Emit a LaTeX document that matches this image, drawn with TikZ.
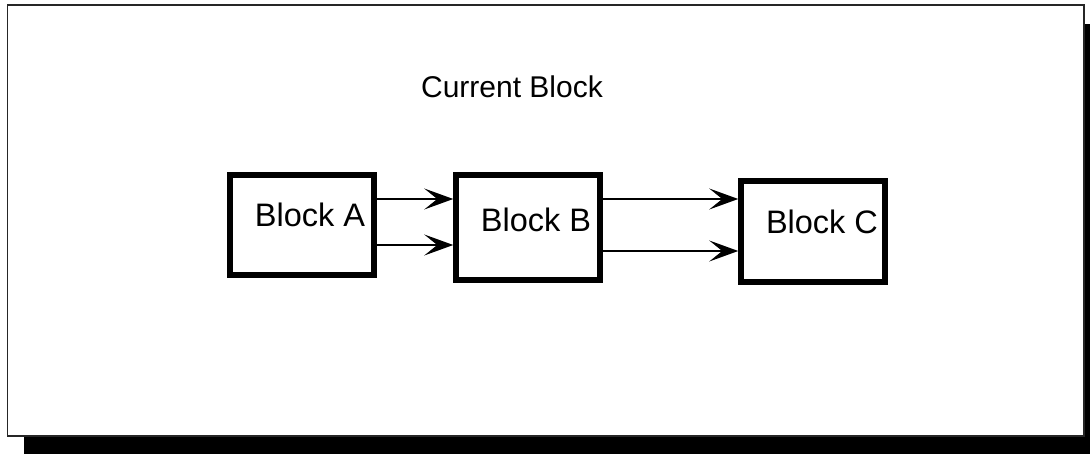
\documentclass[tikz,border=0pt]{standalone}
\usepackage{fontspec}
\setmainfont{Liberation Sans}
\usetikzlibrary{positioning,arrows.meta,calc}

\begin{document}
\begin{tikzpicture}[x=1pt,y=-1pt,
  block/.style={
    draw,
    line width=5.5pt,
    minimum width=144pt,
    inner sep=0pt
  },
  link/.style={
    line width=1.4pt,
    -{Stealth[length=29pt,width=21pt,inset=13pt]}
  }
]
  \useasboundingbox (0,0) rectangle (1090,454);
  % shadow and frame
  \fill[black] (24,24) rectangle (1095,460);
  \draw[line width=1.8pt,draw=black!85,fill=white] (7.5,5) rectangle (1084,436);
  \node[font=\fontsize{30}{36}\selectfont,anchor=base] (title) at (512,98) {Current Block};
  \node[block,minimum height=100pt,
    label={[xshift=8pt,yshift=10pt,font=\fontsize{32.5}{38}\selectfont]center:Block A}] (A) at (302,225) {};
  \node[block,minimum height=105pt,
    label={[xshift=8pt,yshift=7.5pt,font=\fontsize{32.5}{38}\selectfont]center:Block B}] (B) at (528,227.5) {};
  \node[block,minimum height=101pt,
    label={[xshift=9pt,yshift=9.5pt,font=\fontsize{32.5}{38}\selectfont]center:Block C}] (C) at (813,231.5) {};
  \draw[link] (A.east |- 0,199) -- (B.west |- 0,199);
  \draw[link] (A.east |- 0,245) -- (B.west |- 0,245);
  \draw[link] (B.east |- 0,199) -- (C.west |- 0,199);
  \draw[link] (B.east |- 0,251) -- (C.west |- 0,251);
\end{tikzpicture}
\end{document}
